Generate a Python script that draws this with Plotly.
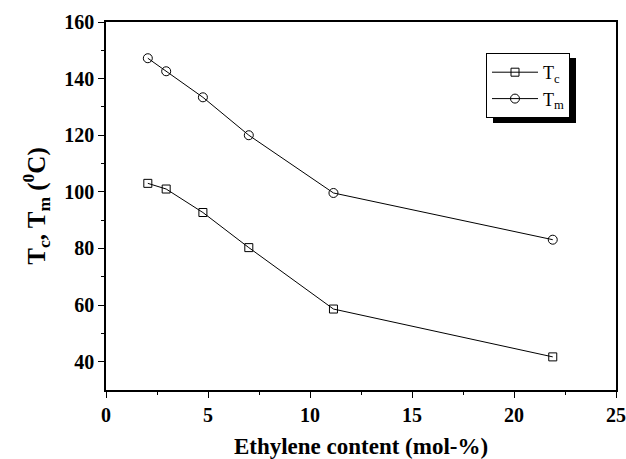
import plotly.graph_objects as go

ethylene = [2.05, 2.95, 4.75, 7.0, 11.15, 21.9]
tc_values = [103.0, 101.0, 92.7, 80.3, 58.6, 41.7]
tm_values = [147.2, 142.6, 133.4, 120.0, 99.6, 83.1]
x_ticks = [0, 5, 10, 15, 20, 25]
y_ticks = [40, 60, 80, 100, 120, 140, 160]

FONT = "Liberation Serif"

fig = go.Figure()
fig.add_trace(go.Scatter(
    x=ethylene, y=tc_values, mode="lines+markers",
    name="T<sub>c</sub>",
    line=dict(color="black", width=1),
    marker=dict(symbol="square-open", size=8, color="black", line=dict(width=1)),
))
fig.add_trace(go.Scatter(
    x=ethylene, y=tm_values, mode="lines+markers",
    name="T<sub>m</sub>",
    line=dict(color="black", width=1),
    marker=dict(symbol="circle-open", size=9, color="black", line=dict(width=1)),
))

# legend shadow (offset ~6 px right and down from the legend box)
fig.add_shape(type="rect", xref="paper", yref="paper",
              x0=(493 - 106) / 510, x1=(576 - 106) / 510,
              y0=(390 - 123) / 368, y1=(390 - 58) / 368,
              fillcolor="black", line=dict(width=0), layer="above")

fig.update_layout(
    width=626, height=459,
    margin=dict(l=106, r=10, t=22, b=69),
    paper_bgcolor="white", plot_bgcolor="white",
    font=dict(family=FONT, color="black"),
    showlegend=True,
    legend=dict(
        x=(486 - 106) / 510, y=(390 - 53) / 368, xanchor="left", yanchor="top",
        bgcolor="white", bordercolor="black", borderwidth=1,
        font=dict(family=FONT, size=18, color="black"),
        itemwidth=46, tracegroupgap=0,
    ),
    xaxis=dict(
        range=[0, 25], tickvals=x_ticks, ticktext=[f"<b>{v}</b>" for v in x_ticks],
        ticks="outside", ticklen=6, tickwidth=1, tickcolor="black",
        minor=dict(tickvals=[2.5, 7.5, 12.5, 17.5, 22.5], ticks="outside", ticklen=3, tickcolor="black"),
        showline=True, linecolor="black", linewidth=1.5, mirror=True,
        showgrid=False, zeroline=False, automargin=False,
        tickfont=dict(family=FONT, size=20, color="black", weight="bold"),
        title=dict(text="<b>Ethylene content (mol-%)</b>", font=dict(family=FONT, size=23, color="black"), standoff=14),
    ),
    yaxis=dict(
        range=[30, 160], tickvals=y_ticks, ticktext=[f"<b>{v}</b>" for v in y_ticks],
        ticks="outside", ticklen=6, tickwidth=1, tickcolor="black",
        minor=dict(tickvals=[50, 70, 90, 110, 130, 150], ticks="outside", ticklen=3, tickcolor="black"),
        showline=True, linecolor="black", linewidth=1.5, mirror=True,
        showgrid=False, zeroline=False, automargin=False,
        tickfont=dict(family=FONT, size=20, color="black", weight="bold"),
        title=dict(text="<b>T<sub>c</sub>, T<sub>m</sub> (<sup>0</sup>C)</b>", font=dict(family=FONT, size=25, color="black"), standoff=12),
    ),
)

fig.write_html("out.html")
